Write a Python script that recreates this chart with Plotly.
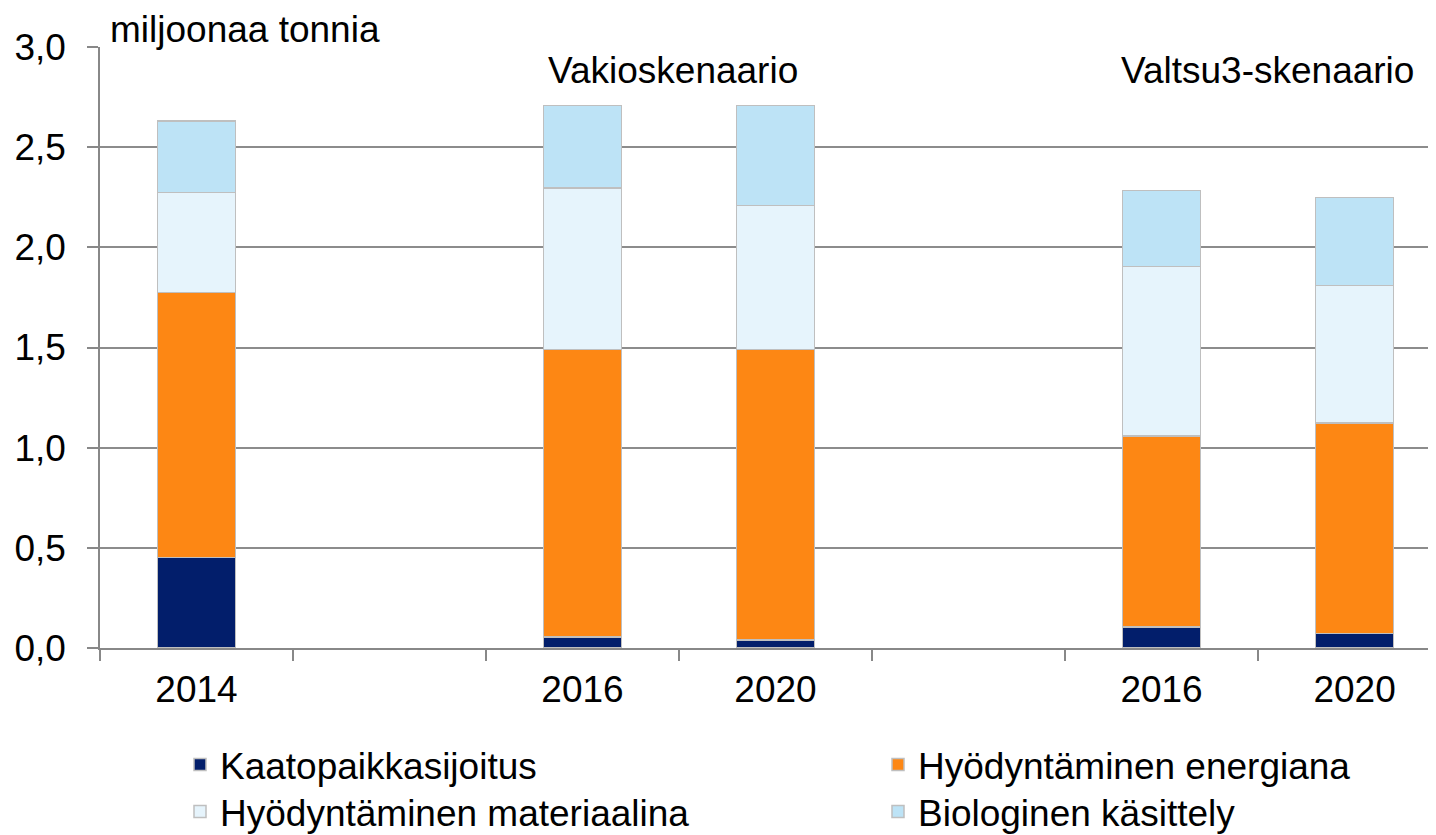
import plotly.graph_objects as go

# slots: 7 category positions (two empty spacer slots)
slot_labels = ["2014", "", "2016", "2020", "", "2016", "2020"]
series_names = ["Kaatopaikkasijoitus", "Hyödyntäminen energiana",
                "Hyödyntäminen materiaalina", "Biologinen käsittely"]
kaatopaikka = [0.453, None, 0.055, 0.040, None, 0.106, 0.073]
energiana = [1.321, None, 1.434, 1.449, None, 0.953, 1.051]
materiaalina = [0.500, None, 0.806, 0.721, None, 0.845, 0.685]
biologinen = [0.356, None, 0.414, 0.499, None, 0.380, 0.440]
y_ticks = [0.0, 0.5, 1.0, 1.5, 2.0, 2.5, 3.0]
unit_label = "miljoonaa tonnia"
scenario_labels = ["Vakioskenaario", "Valtsu3-skenaario"]

colors = ["#021e6b", "#fd8714", "#e6f4fc", "#bde3f6"]
FONT = "Liberation Sans, Arial, sans-serif"
FS = 37

# page has an 8px body margin: figure pixel = page pixel - 8
OFF = 8
W, H = 1436 - OFF, 835 - OFF
ML, MR, MT, MB = 100 - OFF, 0, 47 - OFF, 187
PW, PH = W - ML - MR, H - MT - MB


def px_x(px):
    return (px - OFF - ML) / PW


def px_y(py):
    return (H - MB - (py - OFF)) / PH


x_pos = list(range(len(slot_labels)))
label_pos = [i for i, l in enumerate(slot_labels) if l]
label_txt = [l for l in slot_labels if l]
boundaries = [i - 0.5 for i in range(len(slot_labels) + 1)]

fig = go.Figure()
all_series = [kaatopaikka, energiana, materiaalina, biologinen]
legend_ids = ["legend", "legend2", "legend3", "legend4"]
# legend text start (page px) and row centre (page px)
legend_text_x = [220, 918, 220, 918]
legend_row_y = [765, 765, 812, 812]
for name, vals, col, lg in zip(series_names, all_series, colors, legend_ids):
    fig.add_trace(go.Bar(
        x=x_pos, y=vals, name=name, width=0.404,
        marker=dict(color=col, line=dict(color="#bfbfbf", width=1.5)),
        legend=lg,
    ))

legends = {}
for lg, tx, ty in zip(legend_ids, legend_text_x, legend_row_y):
    legends[lg] = dict(orientation="h", xref="container", yref="container",
                       xanchor="left", yanchor="middle", traceorder="normal",
                       x=(tx - OFF - 40) / W, y=1 - (ty - OFF) / H,
                       font=dict(size=FS), bgcolor="rgba(0,0,0,0)")

fig.update_layout(
    barmode="stack",
    width=W, height=H,
    margin=dict(l=ML, r=MR, t=MT, b=MB, autoexpand=False),
    plot_bgcolor="white", paper_bgcolor="white",
    font=dict(family=FONT, size=FS, color="black"),
    separators=",.",
    xaxis=dict(
        range=[-0.5, 6.422],
        tickmode="array", tickvals=label_pos, ticktext=label_txt,
        ticks="", showgrid=False, zeroline=False,
        showline=True, linecolor="#888888", linewidth=1.5,
        ticklabelstandoff=8,
        minor=dict(tickmode="array", tickvals=boundaries, ticks="outside",
                   ticklen=11, tickcolor="#888888", tickwidth=1.5, showgrid=False),
    ),
    yaxis=dict(
        range=[0, 3.0], tickmode="array", tickvals=y_ticks, tickformat=".1f",
        ticks="outside", ticklen=11, tickcolor="#888888", tickwidth=1.5,
        showgrid=True, gridcolor="#8c8c8c", gridwidth=1.5,
        showline=True, linecolor="#888888", linewidth=1.5,
        zeroline=False, ticklabelstandoff=14,
    ),
    annotations=[
        dict(text=unit_label, xref="paper", yref="paper",
             x=px_x(108), y=px_y(29), xanchor="left", yanchor="middle",
             showarrow=False, font=dict(size=FS)),
        dict(text=scenario_labels[0], xref="paper", yref="paper",
             x=px_x(673), y=px_y(71), xanchor="center", yanchor="middle",
             showarrow=False, font=dict(size=FS)),
        dict(text=scenario_labels[1], xref="paper", yref="paper",
             x=px_x(1267), y=px_y(71), xanchor="center", yanchor="middle",
             showarrow=False, font=dict(size=FS)),
    ],
    showlegend=True,
    **legends,
)

fig.write_html("out.html")
